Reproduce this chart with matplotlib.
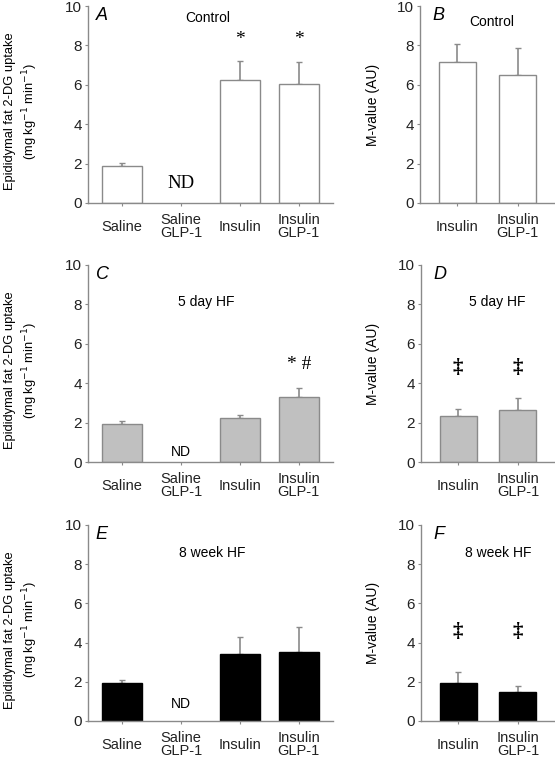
import numpy as np
import matplotlib
matplotlib.use('Agg')
import matplotlib.pyplot as plt

plt.rcParams['font.family'] = ['Liberation Sans', 'DejaVu Sans']

# uptake panels (A, C, E)
uptake_cats = ['Saline', 'Saline\nGLP-1', 'Insulin', 'Insulin\nGLP-1']
uptake_control = [1.88, np.nan, 6.24, 6.02]
uptake_control_err = [0.14, np.nan, 0.98, 1.12]
uptake_5day = [1.93, np.nan, 2.22, 3.31]
uptake_5day_err = [0.15, np.nan, 0.19, 0.44]
uptake_8week = [1.94, np.nan, 3.42, 3.54]
uptake_8week_err = [0.13, np.nan, 0.85, 1.26]

# M-value panels (B, D, F)
mvalue_cats = ['Insulin', 'Insulin\nGLP-1']
mvalue_control = [7.15, 6.49]
mvalue_control_err = [0.90, 1.36]
mvalue_5day = [2.36, 2.66]
mvalue_5day_err = [0.35, 0.59]
mvalue_8week = [1.92, 1.46]
mvalue_8week_err = [0.58, 0.34]

AXCOL = '#8a8a8a'
W, H = 555., 760.


def ax_rect(left, right, top, bottom):
    return [left / W, 1 - bottom / H, (right - left) / W, (bottom - top) / H]


def draw_panel(ax, cats, vals, errs, fill, width, xlim):
    x = np.arange(len(cats))
    edge = AXCOL if fill != 'black' else 'black'
    ax.bar(x, vals, width=width, color=fill, edgecolor=edge, linewidth=1.0, zorder=2)
    ax.errorbar(x, vals, yerr=[np.zeros(len(vals)), errs], fmt='none',
                ecolor=AXCOL, elinewidth=1.2, capsize=2.5, capthick=1.0, zorder=1)
    ax.set_xlim(*xlim)
    ax.set_ylim(0, 10)
    ax.set_yticks([0, 2, 4, 6, 8, 10])
    ax.set_xticks(x)
    ax.set_xticklabels(cats, fontsize=10.5, linespacing=0.95)
    for lab in ax.get_xticklabels():
        lab.set_verticalalignment('center')
    for s in ['top', 'right']:
        ax.spines[s].set_visible(False)
    for s in ['left', 'bottom']:
        ax.spines[s].set_color(AXCOL)
        ax.spines[s].set_linewidth(1.0)
    ax.tick_params(axis='x', length=2.5, color=AXCOL, pad=14.5, labelcolor='#222222')
    ax.tick_params(axis='y', length=2.5, color=AXCOL, pad=2, labelsize=11, labelcolor='#222222')


fig = plt.figure(figsize=(5.55, 7.6), dpi=100)

uptake_xlim = (-0.58, 3.58)
mvalue_xlim = (-0.62, 1.62)

axA = fig.add_axes(ax_rect(88, 333, 6, 203))
axB = fig.add_axes(ax_rect(420, 555, 6, 203))
axC = fig.add_axes(ax_rect(88, 333, 265, 462))
axD = fig.add_axes(ax_rect(421, 555, 265, 462))
axE = fig.add_axes(ax_rect(88, 333, 525, 721))
axF = fig.add_axes(ax_rect(421, 555, 525, 721))

draw_panel(axA, uptake_cats, uptake_control, uptake_control_err, 'white', 0.69, uptake_xlim)
draw_panel(axB, mvalue_cats, mvalue_control, mvalue_control_err, 'white', 0.62, mvalue_xlim)
draw_panel(axC, uptake_cats, uptake_5day, uptake_5day_err, '#c0c0c0', 0.69, uptake_xlim)
draw_panel(axD, mvalue_cats, mvalue_5day, mvalue_5day_err, '#c0c0c0', 0.62, mvalue_xlim)
draw_panel(axE, uptake_cats, uptake_8week, uptake_8week_err, 'black', 0.69, uptake_xlim)
draw_panel(axF, mvalue_cats, mvalue_8week, mvalue_8week_err, 'black', 0.62, mvalue_xlim)

# panel letters and titles
letters = [(axA, 'A', -0.45), (axB, 'B', -0.42), (axC, 'C', -0.45),
           (axD, 'D', -0.42), (axE, 'E', -0.45), (axF, 'F', -0.42)]
for ax, letter, lx in letters:
    ax.text(lx, 9.95, letter, fontsize=13, style='italic', ha='left', va='top')

axA.text(1.45, 9.4, 'Control', fontsize=10, ha='center', va='center')
axB.text(0.57, 9.2, 'Control', fontsize=10, ha='center', va='center')
axC.text(1.43, 8.1, '5 day HF', fontsize=10, ha='center', va='center')
axD.text(0.65, 8.1, '5 day HF', fontsize=10, ha='center', va='center')
axE.text(1.53, 8.55, '8 week HF', fontsize=10, ha='center', va='center')
axF.text(0.67, 8.55, '8 week HF', fontsize=10, ha='center', va='center')

# significance marks
serif = 'Liberation Serif'
axA.text(2, 8.3, '*', fontsize=14, family=serif, ha='center', va='center')
axA.text(3, 8.3, '*', fontsize=14, family=serif, ha='center', va='center')
axC.text(3, 4.95, '* #', fontsize=14, family=serif, ha='center', va='center')
for ax, yy in [(axD, 4.75), (axF, 4.55)]:
    for xx in [0, 1]:
        ax.text(xx, yy, '\u2021', fontsize=15, family=serif, weight='bold',
                ha='center', va='center')

axA.text(1, 1.0, 'ND', fontsize=13.5, family=serif, ha='center', va='center')
axC.text(1, 0.5, 'ND', fontsize=10, ha='center', va='center')
axE.text(1, 0.85, 'ND', fontsize=10, ha='center', va='center')

# y labels
uptake_label = 'Epididymal fat 2-DG uptake\n(mg kg$^{-1}$ min$^{-1}$)'
for top, bottom in [(6, 203), (265, 462), (525, 721)]:
    yc = 1 - (top + bottom) / 2 / H
    fig.text(22 / W, yc - 7 / H, uptake_label, rotation=90, fontsize=9.3,
             ha='center', va='center', multialignment='center', linespacing=1.35)
    fig.text(373 / W, yc, 'M-value (AU)', rotation=90, fontsize=10,
             ha='center', va='center')

fig.savefig('out.png', dpi=100)
